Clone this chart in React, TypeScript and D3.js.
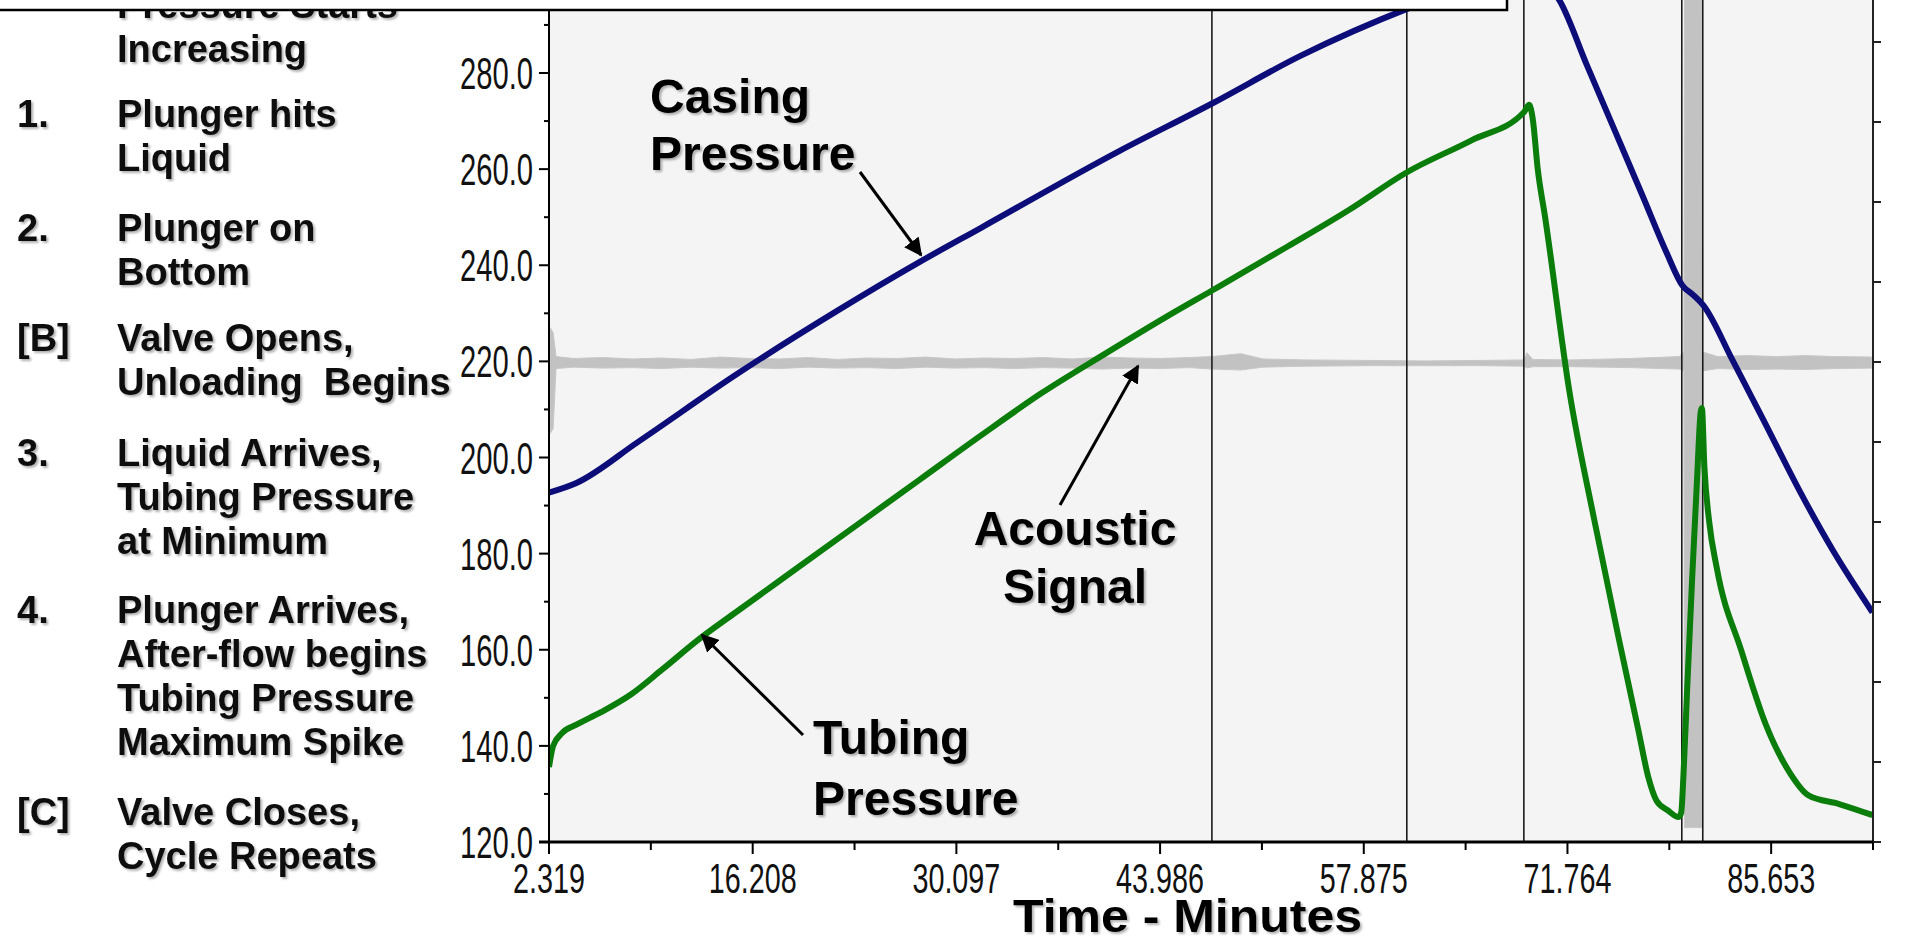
import React, { useEffect } from "react";
import * as d3 from "d3";

// ---------- data ----------
const X_DOMAIN = [2.319, 92.5975];
const X_TICKS = [2.319, 16.208, 30.097, 43.986, 57.875, 71.764, 85.653];
const X_MINOR = [9.2635, 23.1525, 37.0415, 50.9305, 64.8195, 78.7085, 92.5975];
const Y_MAJOR = [120, 140, 160, 180, 200, 220, 240, 260, 280];
const Y_MINOR = [130, 150, 170, 190, 210, 230, 250, 270, 290];
const RIGHT_TICKS = [-6, -5, -4, -3, -2, -1, 0, 1, 2, 3, 4, 5, 6];
const EVENT_TIMES = [47.52, 60.81, 68.79, 79.56, 80.99];

const casingT = [2.319, 4.19, 8.37, 15.06, 21.96, 27.6, 31.78, 41.23, 47.5, 53.52, 61.04, 65.5, 69.0, 70.07, 71.24, 73.08, 75.08, 76.92, 78.51, 79.6, 80.35, 81.02, 83.03, 85.28, 87.62, 89.88, 92.56];
const casingP = [192.7, 194.7, 203.2, 217.2, 230.5, 240.7, 247.8, 263.8, 273.6, 283.5, 293.6, 298.5, 302.5, 299.5, 295, 281.7, 267.4, 254.2, 242.7, 235.8, 233.8, 231.7, 220.2, 206.9, 192.9, 180.6, 167.8];

const tubingT = [2.319, 2.6, 3.19, 4.19, 5.86, 7.95, 10.04, 12.55, 15.06, 19.24, 23.42, 27.6, 31.78, 35.96, 40.14, 44.32, 47.5, 52.68, 56.86, 60.79, 65.22, 68.81, 69.15, 69.4, 69.73, 70.24, 71.91, 73.58, 75.25, 76.59, 77.26, 77.84, 78.6, 79.35, 79.52, 79.68, 79.93, 80.27, 80.6, 80.85, 80.93, 81.1, 81.43, 81.94, 83.62, 85.28, 86.95, 88.2, 90.29, 92.56];
const tubingP = [135.6, 140.0, 142.6, 144.4, 147.0, 150.8, 155.9, 162.2, 167.8, 177.0, 186.2, 195.4, 204.6, 213.5, 221.4, 229.1, 234.7, 243.9, 251.5, 259.3, 266.0, 271.9, 273.4, 270.4, 260.2, 250.0, 213.5, 187.2, 162.5, 143.4, 133.7, 128.6, 126.6, 125.2, 126.1, 134.3, 152.1, 175.1, 195.5, 209.5, 210.3, 198.1, 186.6, 177.1, 159.8, 144.5, 134.3, 129.7, 127.9, 125.6];

// acoustic signal envelope (min / max of the trace)
const acousticT = [2.319, 2.4, 2.6, 2.8, 4, 6, 8, 10, 12, 14, 16, 18, 20, 22, 24, 26, 28, 30, 32, 34, 36, 38, 40, 42, 44, 46, 47.5, 49.5, 51, 54, 58, 62, 66, 68.8, 69.0, 69.4, 72, 76, 79.4, 79.7, 79.75, 80.9, 80.95, 82, 84, 86, 88, 90, 92.5];
const acousticLo = [218, 205, 206, 218.5, 218.8, 218.6, 218.7, 218.5, 218.8, 218.6, 218.7, 218.5, 218.8, 218.6, 218.7, 218.5, 218.8, 218.6, 218.7, 218.5, 218.7, 218.6, 218.4, 218.6, 218.5, 218.7, 218.4, 218.2, 218.8, 219.0, 219.1, 219.1, 219.1, 219.0, 218.6, 218.9, 218.9, 218.7, 218.4, 218.0, 123, 123, 218, 218.5, 218.3, 218.4, 218.3, 218.5, 218.6];
const acousticHi = [221, 227, 226, 221, 220.6, 220.8, 220.5, 220.7, 220.4, 220.9, 220.6, 220.5, 220.8, 220.4, 220.7, 220.6, 220.9, 220.5, 220.7, 220.6, 220.8, 220.5, 220.9, 220.7, 220.6, 220.8, 221.0, 221.6, 220.5, 220.3, 220.2, 220.1, 220.2, 220.3, 221.8, 220.4, 220.3, 220.6, 221.0, 222.0, 300, 300, 222, 221, 221.2, 221.0, 221.2, 221.0, 220.9];

const noteMarks = ["", "1.", "2.", "[B]", "3.", "4.", "[C]"];
const noteLines = [
  ["Pressure Starts", "Increasing"],
  ["Plunger hits", "Liquid"],
  ["Plunger on", "Bottom"],
  ["Valve Opens,", "Unloading  Begins"],
  ["Liquid Arrives,", "Tubing Pressure", "at Minimum"],
  ["Plunger Arrives,", "After-flow begins", "Tubing Pressure", "Maximum Spike"],
  ["Valve Closes,", "Cycle Repeats"],
];

// ---------- layout ----------
const W = 1923, H = 948;
const L = 549, R = 1873, B = 842;
const noteTops = [5, 114, 228, 338, 453, 610, 812];
const NOTE_LH = 44;

export default function App() {
  useEffect(() => {
    document.body.style.margin = "0";
    document.body.style.overflow = "hidden";
  }, []);

  const x = d3.scaleLinear().domain(X_DOMAIN).range([L, R]);
  const y = d3.scaleLinear().domain([120, 280]).range([B, 73]);
  const yr = d3.scaleLinear().domain([-6, 0]).range([B, 362]);

  const lineGen = (ts: number[], vs: number[]) =>
    d3.line<number>().x((_, i) => x(ts[i])).y((_, i) => y(vs[i])).curve(d3.curveMonotoneX)(ts)!;

  const acousticArea = d3
    .area<number>()
    .x((_, i) => x(acousticT[i]))
    .y0((_, i) => y(acousticLo[i]))
    .y1((_, i) => y(acousticHi[i]))(acousticT)!;

  const bold = "'Liberation Sans', Arial, Helvetica, sans-serif";
  const narrow = "'Liberation Sans Narrow', 'Liberation Sans', Arial, sans-serif";

  return (
    <svg width={W} height={H} style={{ position: "absolute", left: 0, top: 0, background: "#fff" }}>
      <defs>
        <clipPath id="plot">
          <rect x={L} y={0} width={R - L} height={B} />
        </clipPath>
        <filter id="sh" x="-5%" y="-30%" width="115%" height="170%">
          <feDropShadow dx="2" dy="2" stdDeviation="1.3" floodColor="#000" floodOpacity="0.3" />
        </filter>
        <marker id="ah" viewBox="0 0 10 10" refX="9" refY="5" markerWidth="6" markerHeight="6" orient="auto">
          <path d="M0,0 L10,5 L0,10 z" fill="#000" />
        </marker>
      </defs>

      <rect x={0} y={0} width={W} height={H} fill="#fff" />
      <rect x={L} y={0} width={R - L} height={B} fill="#f4f4f4" />

      <g clipPath="url(#plot)">
        <path d={acousticArea} fill="#c2c2c2" stroke="#c8c8c8" strokeWidth={1} />
        {EVENT_TIMES.map((t, i) => (
          <line key={i} x1={x(t)} x2={x(t)} y1={0} y2={B} stroke="#1a1a1a" strokeWidth={1.6} />
        ))}
        <path d={lineGen(casingT, casingP)} fill="none" stroke="#0d0d7a" strokeWidth={6} strokeLinejoin="round" />
        <path d={lineGen(tubingT, tubingP)} fill="none" stroke="#0a7d0a" strokeWidth={6} strokeLinejoin="round" />
      </g>

      {/* axes */}
      <line x1={L} x2={L} y1={0} y2={B} stroke="#000" strokeWidth={2} />
      <line x1={R} x2={R} y1={0} y2={B} stroke="#222" strokeWidth={2} />
      <line x1={L - 10} x2={R + 1} y1={B} y2={B} stroke="#000" strokeWidth={3} />

      {Y_MAJOR.map((v) => (
        <g key={"ym" + v}>
          <line x1={L - 10} x2={L} y1={y(v)} y2={y(v)} stroke="#000" strokeWidth={2} />
          <text
            x={533}
            y={y(v) + 16}
            textAnchor="end"
            fontFamily={narrow}
            fontSize={44}
            textLength={73}
            lengthAdjust="spacingAndGlyphs"
            fill="#111"
          >
            {v.toFixed(1)}
          </text>
        </g>
      ))}
      {Y_MINOR.map((v) => (
        <line key={"yn" + v} x1={L - 5} x2={L} y1={y(v)} y2={y(v)} stroke="#000" strokeWidth={2} />
      ))}
      {RIGHT_TICKS.map((v) => (
        <line key={"r" + v} x1={R} x2={R + 8} y1={yr(v)} y2={yr(v)} stroke="#222" strokeWidth={2} />
      ))}
      {X_TICKS.map((t) => (
        <g key={"xm" + t}>
          <line x1={x(t)} x2={x(t)} y1={B} y2={B + 12} stroke="#000" strokeWidth={2} />
          <text
            x={x(t)}
            y={893}
            textAnchor="middle"
            fontFamily={narrow}
            fontSize={42}
            textLength={t < 10 ? 72 : 88}
            lengthAdjust="spacingAndGlyphs"
            fill="#111"
          >
            {t.toFixed(3)}
          </text>
        </g>
      ))}
      {X_MINOR.map((t) => (
        <line key={"xn" + t} x1={x(t)} x2={x(t)} y1={B} y2={B + 8} stroke="#000" strokeWidth={2} />
      ))}

      <text
        x={1013}
        y={932}
        fontFamily={bold}
        fontWeight="bold"
        fontSize={47}
        textLength={349}
        lengthAdjust="spacingAndGlyphs"
        fill="#000"
        filter="url(#sh)"
      >
        Time - Minutes
      </text>

      {/* plot annotations */}
      <g fontFamily={bold} fontWeight="bold" fontSize={48} fill="#000" filter="url(#sh)">
        <text x={650} y={113}>Casing</text>
        <text x={650} y={170}>Pressure</text>
        <text x={1075} y={545} textAnchor="middle">Acoustic</text>
        <text x={1075} y={603} textAnchor="middle">Signal</text>
        <text x={813} y={754}>Tubing</text>
        <text x={813} y={815}>Pressure</text>
      </g>
      <g stroke="#000" strokeWidth={3} markerEnd="url(#ah)">
        <line x1={860} y1={172} x2={921} y2={255} />
        <line x1={1060} y1={505} x2={1138} y2={366} />
        <line x1={803} y1={735} x2={702} y2={635} />
      </g>

      {/* left notes */}
      <g fontFamily={bold} fontWeight="bold" fontSize={38} fill="#111" filter="url(#sh)">
        {noteLines.map((lines, i) => (
          <g key={"n" + i}>
            {noteMarks[i] && (
              <text x={17} y={noteTops[i] + 13}>
                {noteMarks[i]}
              </text>
            )}
            {lines.map((s, j) => (
              <text key={j} x={117} y={noteTops[i] + 13 + j * NOTE_LH} style={{ whiteSpace: "pre" }}>
                {s}
              </text>
            ))}
          </g>
        ))}
      </g>

      {/* overlapping caption box at the top */}
      <rect x={-5} y={-5} width={1512} height={15} fill="#fff" stroke="#000" strokeWidth={2.5} />
    </svg>
  );
}
